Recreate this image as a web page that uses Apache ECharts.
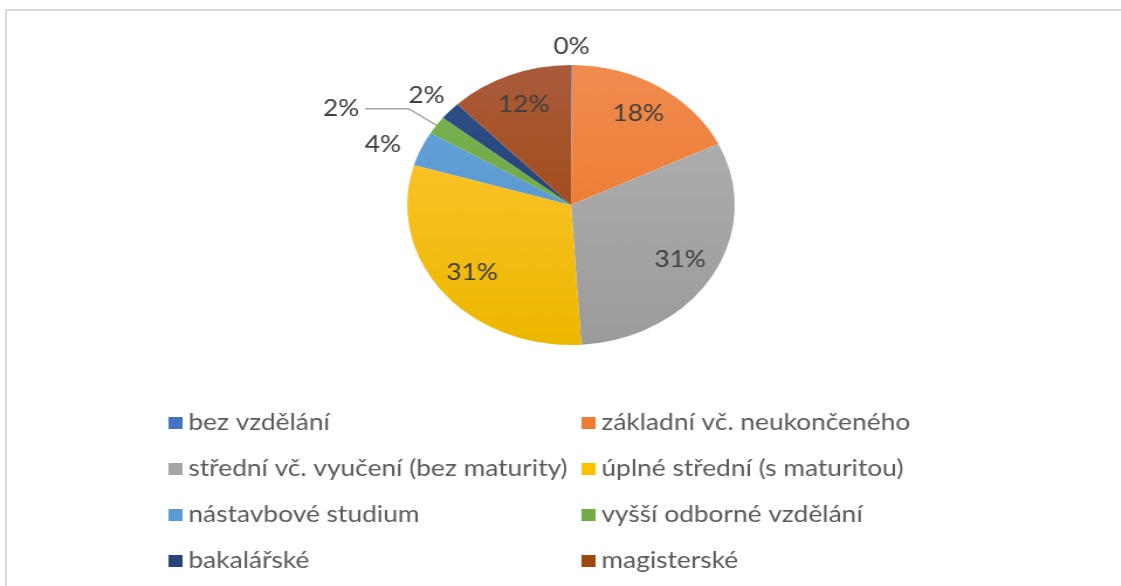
<!DOCTYPE html>
<html>
<head>
<meta charset="utf-8">
<script src="https://cdn.jsdelivr.net/npm/echarts@6/dist/echarts.min.js"></script>
<style>
html,body{margin:0;padding:0;background:#fff;width:1121px;height:586px;overflow:hidden;}
#frameTop{position:absolute;left:5px;top:9px;width:1116px;height:2px;background:#D9D9D9;}
#frameLeft{position:absolute;left:5px;top:9px;width:2px;height:577px;background:#D9D9D9;}
#chart{position:absolute;left:0;top:0;width:958px;height:586px;transform:scaleX(1.17);transform-origin:0 0;}
</style>
</head>
<body>
<div id="frameTop"></div>
<div id="frameLeft"></div>
<div id="chart"></div>
<script>
// Data (percent shares)
const categories = [
  'bez vzdělání',
  'základní vč. neukončeného',
  'střední vč. vyučení (bez maturity)',
  'úplné střední (s maturitou)',
  'nástavbové studium',
  'vyšší odborné vzdělání',
  'bakalářské',
  'magisterské'
];
const values = [0.1, 17.7, 31.2, 30.6, 4.0, 2.1, 2.1, 12.2];
const baseColors = ['#4472C4', '#ED7D31', '#A5A5A5', '#FFC000', '#5B9BD5', '#70AD47', '#264478', '#9E480E'];
const topColors = ['#5080CC', '#F18B4F', '#B3B3B3', '#FFC83A', '#69A5DB', '#7BB552', '#30508A', '#A95B3A'];
const bottomColors = ['#3A66B5', '#E9731F', '#9B9B9B', '#EDB700', '#4F8FCB', '#64A03C', '#1F3A6A', '#9C4000'];

const chart = echarts.init(document.getElementById('chart'), null, {renderer: 'canvas'});
const cx = 488, cy = 205, R = 140;
const fontFam = 'Lato, "Open Sans", sans-serif';
const fontSize = 22.5;

function grad(i) {
  return new echarts.graphic.LinearGradient(0, cy - R, 0, cy + R, [
    {offset: 0, color: topColors[i]},
    {offset: 1, color: bottomColors[i]}
  ], true);
}

const outsideCfg = {
  0: {length: 18, length2: 0, line: false, dist: 0, pad: 0},
  4: {length: 10, length2: 3, line: false, dist: 5, pad: 0},
  5: {length: 29, length2: 37, line: true, dist: 5, pad: 12},
  6: {length: 23, length2: 3, line: false, dist: 0, pad: 0}
};
const insideIdx = [1, 2, 3, 7];

const mainData = categories.map((n, i) => {
  const c = outsideCfg[i];
  return {
    name: n,
    value: values[i],
    itemStyle: {color: grad(i)},
    label: c ? {show: true, distanceToLabelLine: c.dist, padding: [0, 0, c.pad, 0]} : {show: false},
    labelLine: c ? {show: c.line, length: c.length, length2: c.length2} : {show: false}
  };
});
const labelData = categories.map((n, i) => ({
  name: n,
  value: values[i],
  label: {show: insideIdx.indexOf(i) >= 0}
}));

const legendItems = idxs => idxs.map(i => ({name: categories[i], itemStyle: {color: baseColors[i]}}));
const legendCommon = {
  orient: 'vertical',
  icon: 'rect',
  itemWidth: 12,
  itemHeight: 12,
  itemGap: 22,
  padding: 0,
  selectedMode: false,
  textStyle: {fontFamily: fontFam, fontSize: fontSize, color: '#595959', lineHeight: 24}
};

chart.setOption({
  animation: false,
  legend: [
    Object.assign({left: 144, top: 411, data: legendItems([0, 2, 4, 6])}, legendCommon),
    Object.assign({left: 497, top: 411, data: legendItems([1, 3, 5, 7])}, legendCommon)
  ],
  series: [
    {
      type: 'pie',
      center: [cx, cy],
      radius: [0, R],
      startAngle: 90,
      clockwise: true,
      avoidLabelOverlap: false,
      silent: true,
      itemStyle: {borderWidth: 0},
      label: {
        position: 'outside',
        fontFamily: fontFam,
        fontSize: fontSize,
        color: '#404040',
        formatter: p => Math.round(p.percent) + '%'
      },
      labelLine: {lineStyle: {color: '#A6A6A6', width: 1.5}, smooth: false},
      labelLayout: function (p) {
        if (p.dataIndex === 0 || p.dataIndex === 6) return {align: 'center'};
        return {};
      },
      data: mainData
    },
    {
      type: 'pie',
      center: [cx, cy],
      radius: [R / 2, R],
      startAngle: 90,
      clockwise: true,
      avoidLabelOverlap: false,
      silent: true,
      itemStyle: {color: 'rgba(0,0,0,0)', borderWidth: 0},
      label: {
        position: 'inside',
        fontFamily: fontFam,
        fontSize: fontSize,
        color: '#404040',
        formatter: p => Math.round(p.percent) + '%'
      },
      labelLine: {show: false},
      data: labelData
    }
  ]
});
</script>
</body>
</html>
